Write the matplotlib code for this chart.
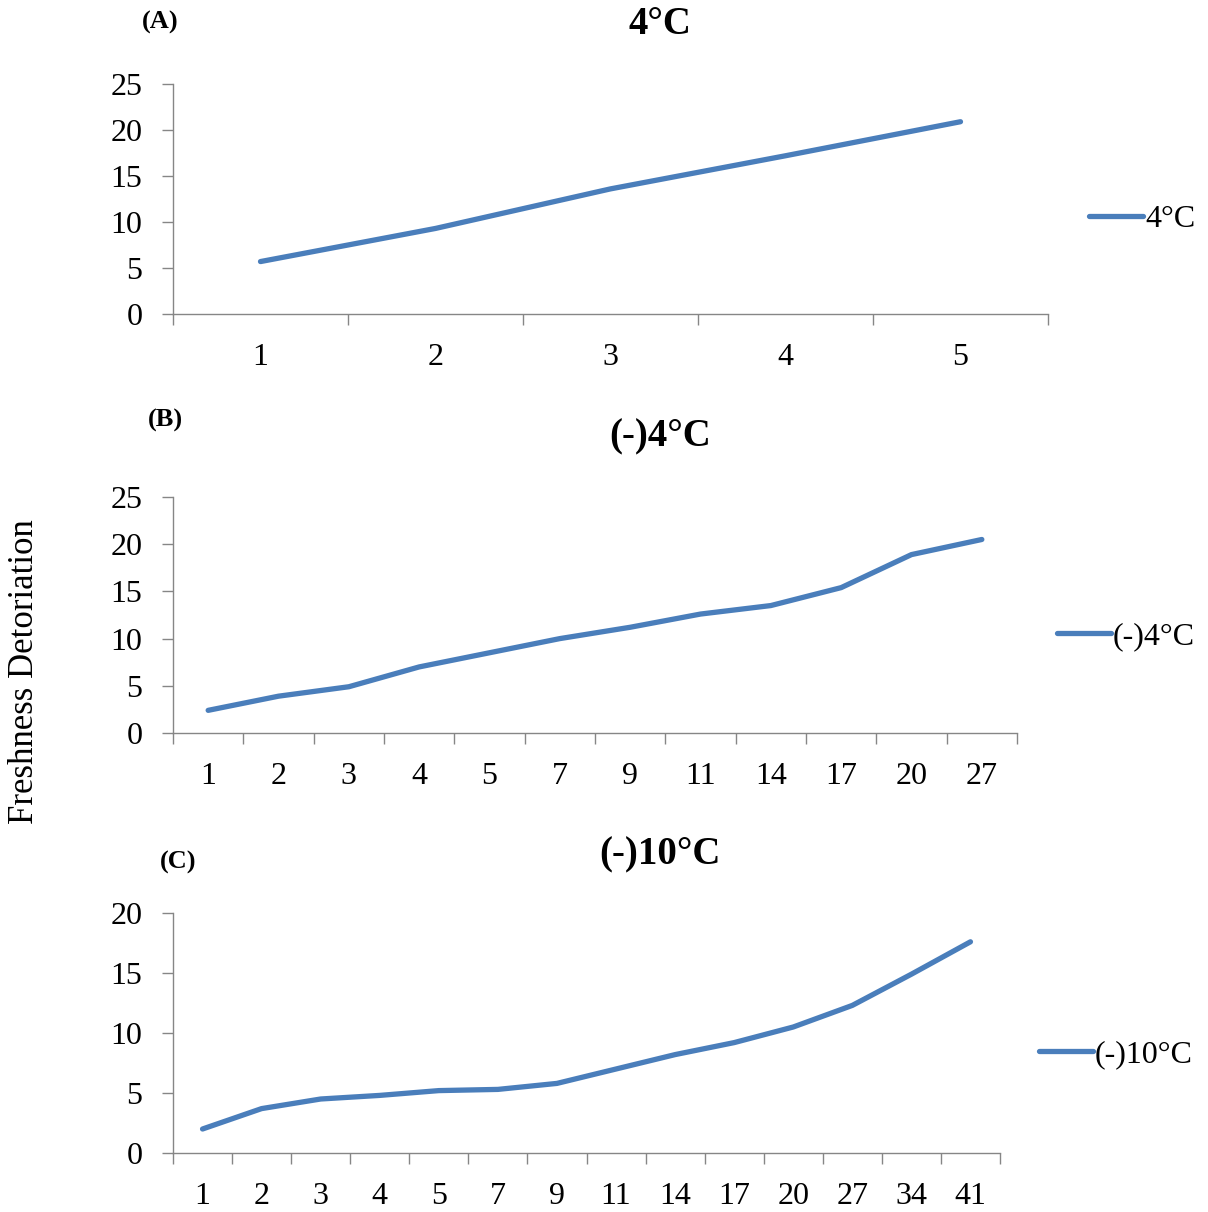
import matplotlib
matplotlib.use("Agg")
import matplotlib.pyplot as plt
import numpy as np

# panel A: 4°C
days_a = ["1", "2", "3", "4", "5"]
vals_a = [5.7, 9.3, 13.6, 17.2, 20.9]

# panel B: (-)4°C
days_b = ["1", "2", "3", "4", "5", "7", "9", "11", "14", "17", "20", "27"]
vals_b = [2.4, 3.9, 4.9, 7.0, 8.5, 10.0, 11.2, 12.6, 13.5, 15.4, 18.9, 20.5]

# panel C: (-)10°C
days_c = ["1", "2", "3", "4", "5", "7", "9", "11", "14", "17", "20", "27", "34", "41"]
vals_c = [2.0, 3.7, 4.5, 4.8, 5.2, 5.3, 5.8, 7.0, 8.2, 9.2, 10.5, 12.3, 14.9, 17.6]

titles = ["4°C", "(-)4°C", "(-)10°C"]
tags = ["(A)", "(B)", "(C)"]

plt.rcParams["font.family"] = ["Liberation Serif", "DejaVu Serif"]
LINE = "#4A7EBB"
AXC = "#868686"

W, H = 1208, 1212
fig = plt.figure(figsize=(W / 100, H / 100), dpi=100)

# (left, right, top, bottom) in pixels
boxes = [(173, 1048, 84, 314), (173, 1017, 497, 733), (173, 1000, 913, 1153)]
ylims = [25, 25, 20]
lab_pad = [21, 21, 21]
title_pos = [(660, 24), (660, 437), (660, 855)]
tag_pos = [(160, 22), (165, 420), (178, 862)]

panels = [(days_a, vals_a), (days_b, vals_b), (days_c, vals_c)]
for i, (days, vals) in enumerate(panels):
    l, r, t, b = boxes[i]
    ax = fig.add_axes([l / W, 1 - b / H, (r - l) / W, (b - t) / H])
    x = np.arange(len(days))
    ax.plot(x, vals, color=LINE, lw=3.8, solid_capstyle="round", label=titles[i])
    ax.set_xlim(-0.5, len(days) - 0.5)
    ax.set_ylim(0, ylims[i])
    ax.set_yticks(np.arange(0, ylims[i] + 1, 5))
    ax.set_xticks(np.arange(len(days) + 1) - 0.5)
    ax.set_xticklabels([])
    ax.set_xticks(x, minor=True)
    ax.set_xticklabels(days, minor=True)
    ax.tick_params(axis="x", which="major", length=8, width=1, color=AXC, direction="out")
    ax.tick_params(axis="x", which="minor", length=0, pad=lab_pad[i], labelsize=23)
    ax.tick_params(axis="y", length=8, width=1, color=AXC, direction="out", pad=14, labelsize=23)
    for s in ["top", "right"]:
        ax.spines[s].set_visible(False)
    for s in ["left", "bottom"]:
        ax.spines[s].set_color(AXC)
        ax.spines[s].set_linewidth(1)
    ax.legend(loc="center left", bbox_to_anchor=(1.047, 0.41), frameon=False,
              fontsize=23, handlelength=1.7, handletextpad=0.05,
              borderpad=0, borderaxespad=0)
    tx, ty = title_pos[i]
    fig.text(tx / W, 1 - ty / H, titles[i], ha="center", va="center",
             fontsize=28, fontweight="bold")
    gx, gy = tag_pos[i]
    fig.text(gx / W, 1 - gy / H, tags[i], ha="center", va="center",
             fontsize=19, fontweight="bold")

fig.text(25 / W, 1 - 672 / H, "Freshness Detoriation", rotation=90,
         ha="center", va="center", fontsize=25)

fig.savefig("out.png", dpi=100)
